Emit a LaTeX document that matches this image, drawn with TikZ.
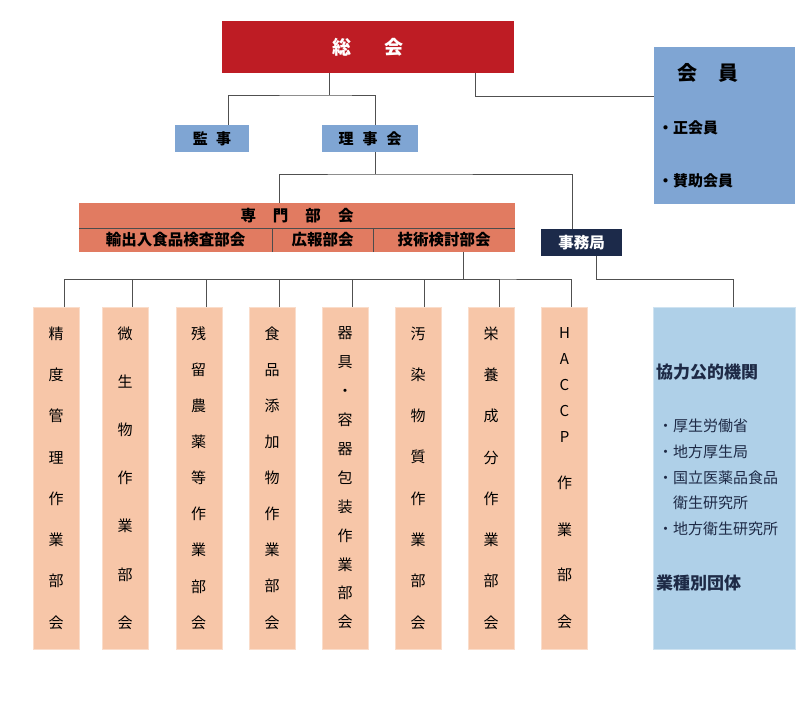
\documentclass[tikz,border=0pt]{standalone}
\usepackage{fontspec}
\setmainfont{Noto Sans CJK JP}
\usepackage{tikz}
\usetikzlibrary{positioning,calc}
\definecolor{soukaired}{RGB}{190,28,36}
\definecolor{kaiinblue}{RGB}{127,165,211}
\definecolor{senmonorange}{RGB}{225,123,97}
\definecolor{jimunavy}{RGB}{28,42,74}
\definecolor{bukaipeach}{RGB}{247,198,168}
\definecolor{kyoryokublue}{RGB}{175,208,232}
\definecolor{textnavy}{RGB}{30,42,70}
\definecolor{linegray}{RGB}{80,80,80}
\tikzset{
  redbox/.style ={rectangle, fill=soukaired, text=white, inner sep=0pt,
                  font=\fontsize{19}{23}\selectfont\bfseries},
  bluebox/.style={rectangle, fill=kaiinblue, inner sep=0pt, minimum height=27pt,
                  font=\fontsize{15}{18}\selectfont\bfseries},
  obox/.style   ={rectangle, fill=senmonorange, inner sep=0pt,
                  font=\fontsize{15.5}{18}\selectfont\bfseries},
  navybox/.style={rectangle, fill=jimunavy, text=white, inner sep=0pt,
                  minimum width=81pt, minimum height=27pt,
                  font=\fontsize{15.5}{18}\selectfont\bfseries},
  colbox/.style ={rectangle, fill=bukaipeach, draw=bukaipeach!60!white, inner sep=0pt,
                  minimum width=46pt, minimum height=342pt, align=center},
  infobox/.style={rectangle, fill=kyoryokublue, draw=kyoryokublue!60!white,
                  minimum width=142pt, minimum height=342pt},
  link/.style   ={draw=linegray, line width=0.9pt},
  divline/.style={draw=black!70, line width=0.7pt},
  txt/.style    ={inner sep=0pt, anchor=west}
}
\begin{document}
\begin{tikzpicture}[x=1pt, y=-1pt]
\useasboundingbox (0,0) rectangle (810,725);

% top level
\node[redbox, minimum width=292pt, minimum height=52pt] (soukai) at (368,47) {総\hspace{33pt}会};
\node[bluebox, minimum width=141pt, minimum height=157pt] (kaiin) at (724.5,125.5) {};
\node[txt, anchor=center, font=\fontsize{20}{24}\selectfont\bfseries] (kaiinT) at (708,73) {会\hspace{21pt}員};
\node[txt, font=\fontsize{15}{18}\selectfont\bfseries] (seikai) at (658,128) {・正会員};
\node[txt, font=\fontsize{15}{18}\selectfont\bfseries] (sanjo) at (658,181) {・賛助会員};
\node[bluebox, minimum width=74pt] (kanji) at (212,138.5) {監\hspace{8.5pt}事};
\node[bluebox, minimum width=96pt] (riji) at (370,138.5) {理\hspace{9pt}事\hspace{9pt}会};

% senmon bukai
\node[obox, minimum width=436pt, minimum height=25pt] (senmon) at (297,215.5)
  {専\hspace{17pt}門\hspace{17pt}部\hspace{17pt}会};
\node[obox, minimum width=193pt, minimum height=24pt] (yushutsu) at (175.5,240) {輸出入食品検査部会};
\node[obox, minimum width=101pt, minimum height=24pt] (kouhou) at (322.5,240) {広報部会};
\node[obox, minimum width=142pt, minimum height=24pt] (gijutsu) at (444,240) {技術検討部会};
\draw[divline] (senmon.south west) -- (senmon.south east);
\draw[divline] (yushutsu.north east) -- (yushutsu.south east);
\draw[divline] (kouhou.north east) -- (kouhou.south east);
\node[navybox] (jimu) at (581.5,242.5) {事務局};

% working groups
\node[colbox, font=\fontsize{15}{41.3}\selectfont] (c1) at (56,478) {精\\度\\管\\理\\作\\業\\部\\会};
\node[colbox, font=\fontsize{15}{48.2}\selectfont] (c2) at (125,478) {微\\生\\物\\作\\業\\部\\会};
\node[colbox, font=\fontsize{15}{36.1}\selectfont] (c3) at (198.7,478) {残\\留\\農\\薬\\等\\作\\業\\部\\会};
\node[colbox, font=\fontsize{15}{36.1}\selectfont] (c4) at (272,478) {食\\品\\添\\加\\物\\作\\業\\部\\会};
\node[colbox, font=\fontsize{15}{28.9}\selectfont] (c5) at (345,478) {器\\具\\・\\容\\器\\包\\装\\作\\業\\部\\会};
\node[colbox, font=\fontsize{15}{41.3}\selectfont] (c6) at (418,478) {汚\\染\\物\\質\\作\\業\\部\\会};
\node[colbox, font=\fontsize{15}{41.3}\selectfont] (c7) at (491,478) {栄\\養\\成\\分\\作\\業\\部\\会};
\node[colbox, font=\fontsize{15}{26.2}\selectfont] (c8) at (564.5,478)
  {H\\A\\C\\C\\P\\[19pt]作\\[21pt]業\\[19pt]部\\[21pt]会};

% cooperating bodies
\node[infobox] (kyoryoku) at (724,478) {};
\node[txt, text=textnavy, font=\fontsize{17}{20}\selectfont\bfseries] (kikan) at (656,372) {協力公的機関};
\node[txt, text=textnavy, align=left, font=\fontsize{15}{25.75}\selectfont] (kikanlist) at (658,477.5)
  {・厚生労働省\\・地方厚生局\\・国立医薬品食品\\\hphantom{・}衛生研究所\\・地方衛生研究所};
\node[txt, text=textnavy, font=\fontsize{17}{20}\selectfont\bfseries] (dantai) at (656,583) {業種別団体};

% connectors
\coordinate (topbus) at (329,95);
\coordinate (kbend) at (475,96);
\coordinate (midbus) at (375,174);
\coordinate (lowbus) at (463,279);
\coordinate (jbend) at (733,279);
\draw[link] ([xshift=-39pt]soukai.south) -- (topbus);
\draw[link] ([xshift=16pt]kanji.north) |- (topbus) -| ([xshift=5pt]riji.north);
\draw[link] ([xshift=107pt]soukai.south) -- (kbend) -- (kbend -| kaiin.west);
\draw[link] ([xshift=5pt]riji.south) -- (midbus);
\draw[link] ([xshift=-18pt]senmon.north) |- (midbus) -| ([xshift=-9.5pt]jimu.north);
\draw[link] ([xshift=19pt]gijutsu.south) -- (lowbus);
\draw[link] ([xshift=8.5pt]c1.north) |- (lowbus) -| ([xshift=7pt]c8.north);
\draw[link] ([xshift=7pt]c2.north) |- (lowbus);
\draw[link] ([xshift=8pt]c3.north) |- (lowbus);
\draw[link] ([xshift=7pt]c4.north) |- (lowbus);
\draw[link] ([xshift=7pt]c5.north) |- (lowbus);
\draw[link] ([xshift=6.5pt]c6.north) |- (lowbus);
\draw[link] ([xshift=8pt]c7.north) |- (lowbus);
\draw[link] ([xshift=14.5pt]jimu.south) |- (jbend) -- (jbend |- kyoryoku.north);
\end{tikzpicture}
\end{document}
